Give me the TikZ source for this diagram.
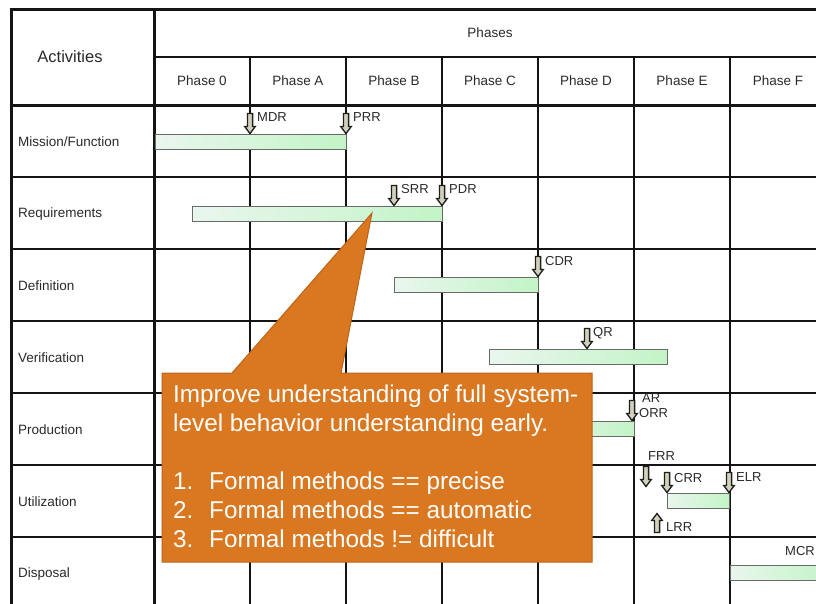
\documentclass[tikz,border=0pt]{standalone}
\usepackage{fontspec}
\setmainfont{Liberation Sans}
\definecolor{txtgray}{HTML}{2A2A2A}
\definecolor{bargray}{HTML}{6A6A6A}
\definecolor{barleft}{HTML}{E9F6EE}
\definecolor{barright}{HTML}{C3F4C6}
\definecolor{arrowfill}{HTML}{D2D2BC}
\definecolor{callfill}{HTML}{D97820}
\definecolor{calledge}{HTML}{BC6318}
\begin{document}
\begin{tikzpicture}[x=1pt,y=-1pt,
  thickrule/.style={line width=3pt,color=black!92},
  gridrule/.style={line width=1.7pt,color=black!92},
  lbl/.style={font=\fontsize{13.5}{16}\selectfont,text=txtgray,inner sep=0pt},
  mslbl/.style={font=\fontsize{13}{15}\selectfont,text=txtgray,inner sep=0pt,anchor=west},
  bar/.style={draw=bargray,line width=1pt,left color=barleft,right color=barright},
  arrowmark/.style={draw=black!88,line width=1.3pt,fill=arrowfill,line join=miter},
  callout/.style={fill=callfill,draw=calledge,line width=1pt,line join=miter},
  calltext/.style={font=\fontsize{24.3}{28}\selectfont,text=white,inner sep=0pt,anchor=base west},
  msdown/.pic={\path[arrowmark] (-2.6,-20.5) -- (2.6,-20.5) -- (2.6,-7.5) -- (5.3,-7.5) -- (0,-0.5) -- (-5.3,-7.5) -- (-2.6,-7.5) -- cycle;},
  msup/.pic={\path[arrowmark] (-2.6,19.5) -- (2.6,19.5) -- (2.6,7.5) -- (5.3,7.5) -- (0,0.5) -- (-5.3,7.5) -- (-2.6,7.5) -- cycle;}]

\useasboundingbox (0,0) rectangle (816,603);
\fill[white] (0,0) rectangle (816,603);
\clip (0,0) rectangle (816,603);

% ---- grid ----
\foreach \y in {177,249,321,393,465,537}
  \draw[gridrule] (11,\y) -- (830,\y);
\draw[gridrule] (154,57) -- (830,57);
\foreach \x in {250,346,442,538,634,730}
  \draw[gridrule] (\x,57) -- (\x,610);
\draw[thickrule] (9.5,9) -- (830,9);
\draw[thickrule] (9.5,105) -- (830,105);
\draw[thickrule] (11,7.5) -- (11,610);
\draw[thickrule] (154,7.5) -- (154,610);

% ---- header texts ----
\node[lbl,font=\fontsize{16.5}{19}\selectfont] (act) at (70,57) {Activities};
\node[lbl] (phases) at (490,33) {Phases};
\foreach \n/\t [count=\i from 0] in {p0/Phase 0,pa/Phase A,pb/Phase B,pc/Phase C,pd/Phase D,pe/Phase E,pf/Phase F}
  \node[lbl] (\n) at (202+96*\i,81) {\t};

% ---- activity rows ----
\foreach \n/\t [count=\i from 0] in {mission/{Mission/Function},req/Requirements,def/Definition,ver/Verification,prod/Production,util/Utilization,disp/Disposal}
  \node[lbl,anchor=west] (\n) at (18,142+72*\i) {\t};

% ---- activity bars ----
\path[bar] (155,134) rectangle (346,149);
\path[bar] (192,206) rectangle (442,221);
\path[bar] (394,277) rectangle (538,292);
\path[bar] (489,349) rectangle (667,364);
\path[bar] (520,421) rectangle (634,436);
\path[bar] (667,493) rectangle (729,508);
\path[bar] (730,565) rectangle (830,580);

% ---- milestones ----
\pic at (250,134) {msdown};
\node[mslbl] (mdr) at (257,117) {MDR};
\pic at (346,134) {msdown};
\node[mslbl] (prr) at (353,117) {PRR};
\pic at (394,206) {msdown};
\node[mslbl] (srr) at (401,189) {SRR};
\pic at (442,206) {msdown};
\node[mslbl] (pdr) at (449,189) {PDR};
\pic at (538,277) {msdown};
\node[mslbl] (cdr) at (545,261) {CDR};
\pic at (587,349) {msdown};
\node[mslbl] (qr) at (593,333) {QR};
\pic at (632,421) {msdown};
\node[mslbl] (ar) at (642,398) {AR};
\node[mslbl] (orr) at (639,413) {ORR};
\node[mslbl] (frr) at (648,456) {FRR};
\pic at (646,487) {msdown};
\pic at (667,493) {msdown};
\node[mslbl] (crr) at (674,478) {CRR};
\pic at (729,493) {msdown};
\node[mslbl] (elr) at (736,477) {ELR};
\pic at (657,513) {msup};
\node[mslbl] (lrr) at (666,527) {LRR};
\node[mslbl] (mcr) at (785,551) {MCR};

% ---- callout ----
\path[callout] (162,373) -- (232,373) -- (372,213) -- (341,373) -- (592,373)
  -- (592,562) -- (162,562) -- cycle;
\node[calltext] (c1) at (173,402) {Improve understanding of full system-};
\node[calltext] (c2) at (173,431.5) {level behavior understanding early.};
\node[calltext] (n1) at (173,489) {1.};
\node[calltext] (c3) at (209,489) {Formal methods == precise};
\node[calltext] (n2) at (173,518) {2.};
\node[calltext] (c4) at (209,518) {Formal methods == automatic};
\node[calltext] (n3) at (173,547) {3.};
\node[calltext] (c5) at (209,547) {Formal methods != difficult};
\end{tikzpicture}
\end{document}
